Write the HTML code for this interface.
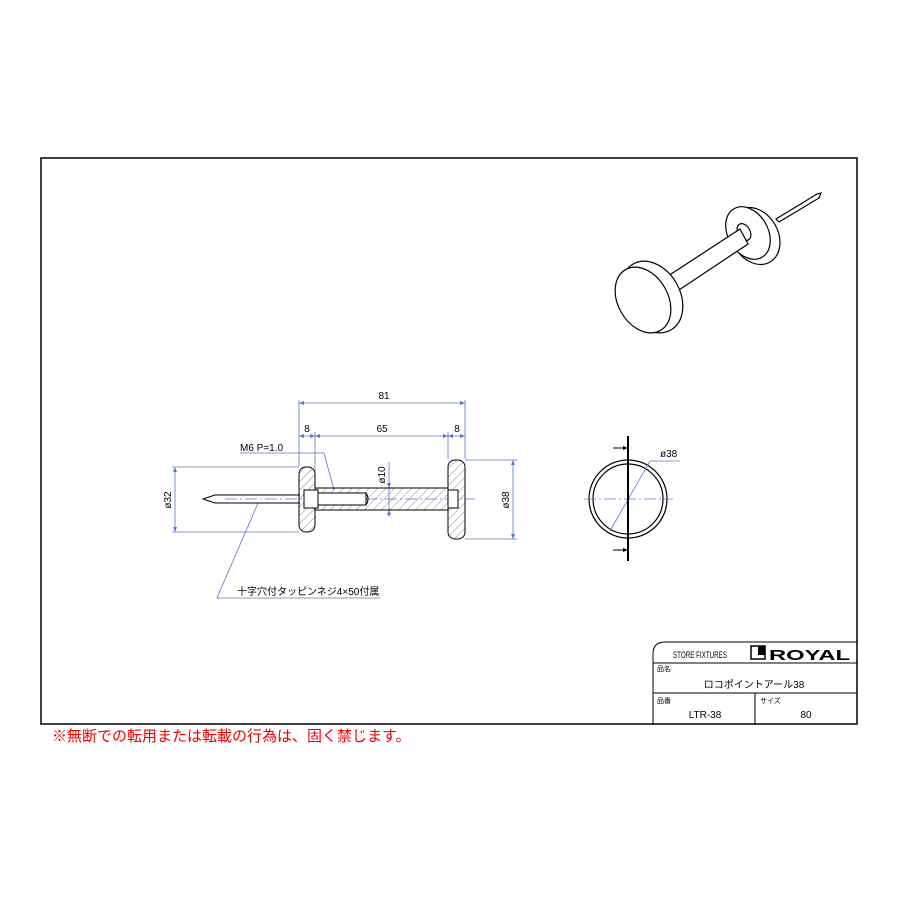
<!DOCTYPE html>
<html><head><meta charset="utf-8"><style>
html,body{margin:0;padding:0;background:#fff;}
svg{display:block;}
text{font-family:"Liberation Sans","Noto Sans CJK JP",sans-serif;}
</style></head><body>
<svg width="900" height="900" viewBox="0 0 900 900" xmlns="http://www.w3.org/2000/svg">
<defs>
<pattern id="h" width="6" height="6" patternUnits="userSpaceOnUse" patternTransform="rotate(45)">
<line x1="0" y1="0" x2="0" y2="6" stroke="#555" stroke-width="0.7"/>
</pattern>
</defs>
<rect x="41" y="158" width="816" height="566" fill="none" stroke="#000" stroke-width="1.5"/>
<!-- title block -->
<path d="M653 724 V654 Q653 642 665 642 H857" fill="none" stroke="#000" stroke-width="1"/>
<line x1="653" y1="663" x2="857" y2="663" stroke="#000"/>
<line x1="653" y1="693" x2="857" y2="693" stroke="#000"/>
<line x1="755" y1="693" x2="755" y2="724" stroke="#000"/>
<text x="673" y="658" font-size="9" textLength="54" lengthAdjust="spacingAndGlyphs">STORE FIXTURES</text>
<rect x="751" y="646" width="14" height="13" fill="none" stroke="#000" stroke-width="1.5"/>
<rect x="758" y="646" width="7" height="9" fill="#000"/>
<text x="769" y="660" font-size="15" font-weight="bold" textLength="81" lengthAdjust="spacingAndGlyphs">ROYAL</text>
<text x="657" y="671" font-size="7">品名</text>
<text x="754" y="688" font-size="10" text-anchor="middle">ロコポイントアール38</text>
<text x="657" y="703" font-size="7">品番</text>
<text x="705" y="718" font-size="10" text-anchor="middle">LTR-38</text>
<text x="760" y="703" font-size="7">サイズ</text>
<text x="806" y="718" font-size="10" text-anchor="middle">80</text>
<text x="52" y="741" font-size="15" fill="#e00">※無断での転用または転載の行為は、固く禁じます。</text>

<!-- section view -->
<g stroke="#5577cc" stroke-width="0.8" fill="none">
<line x1="299" y1="400" x2="299" y2="466"/>
<line x1="465" y1="400" x2="465" y2="459"/>
<line x1="315" y1="432" x2="315" y2="487"/>
<line x1="448" y1="432" x2="448" y2="459"/>
<line x1="299" y1="403" x2="465" y2="403"/>
<line x1="299" y1="436" x2="465" y2="436"/>
<line x1="175" y1="467" x2="175" y2="532"/>
<line x1="172" y1="467" x2="299" y2="467"/>
<line x1="172" y1="532" x2="299" y2="532"/>
<line x1="513" y1="460" x2="513" y2="539"/>
<line x1="465" y1="460" x2="517" y2="460"/>
<line x1="465" y1="539" x2="517" y2="539"/>
<line x1="389" y1="462" x2="389" y2="517"/>
<line x1="240" y1="453" x2="324" y2="453"/>
<line x1="324" y1="453" x2="334" y2="490"/>
<line x1="258" y1="503" x2="217" y2="598"/>
<line x1="217" y1="598" x2="380" y2="598"/>
<line x1="225" y1="499" x2="475" y2="499" stroke-dasharray="12,3,2,3"/>
</g>
<g fill="#5577cc">
<path d="M299 403 l5 -2 v4z M465 403 l-5 -2 v4z"/>
<path d="M299 436 l5 -2 v4z M315 436 l-5 -2 v4z M315 436 l5 -2 v4z M448 436 l-5 -2 v4z M448 436 l5 -2 v4z M465 436 l-5 -2 v4z"/>
<path d="M175 467 l-2 5 h4z M175 532 l-2 -5 h4z M513 460 l-2 5 h4z M513 539 l-2 -5 h4z"/>
<path d="M389 488 l-2 -5 h4z M389 510 l-2 5 h4z"/>
</g>
<g font-size="10" fill="#000">
<text x="384" y="399" text-anchor="middle">81</text>
<text x="307" y="432" text-anchor="middle">8</text>
<text x="382" y="432" text-anchor="middle">65</text>
<text x="457" y="432" text-anchor="middle">8</text>
<text x="240" y="451">M6 P=1.0</text>
<text x="237" y="595" font-size="10">十字穴付タッピンネジ4×50付属</text>
<text transform="translate(171,500) rotate(-90)" text-anchor="middle">ø32</text>
<text transform="translate(509,500) rotate(-90)" text-anchor="middle">ø38</text>
<text transform="translate(385,475) rotate(-90)" text-anchor="middle">ø10</text>
</g>
<g stroke="#000" stroke-width="1">
<rect x="299" y="467" width="16" height="65" rx="7" fill="url(#h)"/>
<rect x="448" y="460" width="17" height="79" rx="7" fill="url(#h)"/>
<rect x="315" y="488" width="133" height="22" fill="url(#h)"/>
<rect x="304" y="490" width="14" height="18" fill="#fff"/>
<rect x="318" y="493" width="48" height="12" fill="#fff"/>
<rect x="448" y="490" width="10" height="18" fill="#fff"/>
<path d="M215 495 H300 M215 503 H300 M215 495 L203 499 L215 503" fill="none"/>
<path d="M366 493 q4 6 0 12" fill="none"/>
</g>

<!-- front view -->
<circle cx="628" cy="499" r="39" fill="none" stroke="#000" stroke-width="1.2"/>
<circle cx="628" cy="499" r="35" fill="none" stroke="#000" stroke-width="1.2"/>
<g stroke="#5577cc" stroke-width="0.8">
<line x1="584" y1="499" x2="673" y2="499" stroke-dasharray="12,3,2,3"/>
<line x1="610" y1="531" x2="650" y2="461"/>
<line x1="650" y1="461" x2="680" y2="461"/>
</g>
<text x="660" y="457" font-size="10">ø38</text>
<line x1="628" y1="436" x2="628" y2="561" stroke="#000" stroke-width="2"/>
<path d="M613 448 H626 M613 550 H626" stroke="#000"/>
<path d="M628 448 l-5 -2 v4z M628 550 l-5 -2 v4z" fill="#000"/>

<!-- iso view -->
<g fill="#fff" stroke="#000" stroke-width="1.2">
<path d="M776 219 L817 194 L821 193 L819 198 L779 222z"/>
<ellipse cx="755" cy="236" rx="23" ry="30" transform="rotate(-30 755 236)"/>
<ellipse cx="748" cy="233" rx="20" ry="28" transform="rotate(-30 748 233)"/>
<ellipse cx="744" cy="232" rx="6" ry="9" transform="rotate(-30 744 232)"/>
<path d="M665 278 L740 229 L748 244 L676 292z"/>
<ellipse cx="652" cy="297" rx="28" ry="38" transform="rotate(-30 652 297)"/>
<ellipse cx="643" cy="300" rx="25" ry="35" transform="rotate(-30 643 300)"/>
</g>
</svg>
</body></html>
